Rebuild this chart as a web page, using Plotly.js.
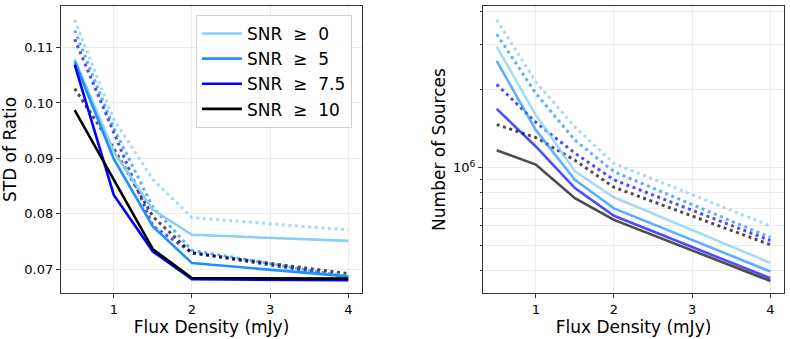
<!DOCTYPE html>
<html>
<head>
<meta charset="utf-8">
<script src="https://cdn.plot.ly/plotly-3.0.1.min.js"></script>
<style>
  body { margin: 0; padding: 0; background: #fff; }
  #chart { width: 790px; height: 339px; }
</style>
</head>
<body>
<div id="chart"></div>
<script>
// flux density bins (mJy)
var flux = [0.5, 1, 1.5, 2, 4];

// left panel: STD of ratio, solid lines
var std_snr0  = [0.1079, 0.0912, 0.0807, 0.0762, 0.0751];
var std_snr5  = [0.1075, 0.0899, 0.0777, 0.0711, 0.0687];
var std_snr75 = [0.1069, 0.0834, 0.0732, 0.0682, 0.0680];
var std_snr10 = [0.0987, 0.0862, 0.0736, 0.0684, 0.0683];
// left panel: dotted lines
var std2_snr0  = [0.1150, 0.0970, 0.0862, 0.0793, 0.0771];
var std2_snr5  = [0.1131, 0.0955, 0.0812, 0.0734, 0.0686];
var std2_snr75 = [0.1115, 0.0945, 0.0778, 0.0730, 0.0685];
var std2_snr10 = [0.1026, 0.0918, 0.0795, 0.0729, 0.0692];

// right panel: number of sources, solid lines
var n_snr0  = [2.94e6, 1.60e6, 9.7e5, 7.7e5, 4.3e5];
var n_snr5  = [2.59e6, 1.40e6, 9.0e5, 6.98e5, 3.98e5];
var n_snr75 = [1.69e6, 1.21e6, 8.36e5, 6.53e5, 3.75e5];
var n_snr10 = [1.17e6, 1.03e6, 7.64e5, 6.3e5, 3.66e5];
// right panel: dotted lines
var n2_snr0  = [3.73e6, 2.15e6, 1.44e6, 1.04e6, 5.97e5];
var n2_snr5  = [3.28e6, 1.94e6, 1.28e6, 9.67e5, 5.39e5];
var n2_snr75 = [2.10e6, 1.50e6, 1.14e6, 8.99e5, 5.24e5];
var n2_snr10 = [1.47e6, 1.31e6, 1.07e6, 8.42e5, 5.05e5];

var names = ['SNR\u00a0 \u2265\u00a0 0', 'SNR\u00a0 \u2265\u00a0 5', 'SNR\u00a0 \u2265\u00a0 7.5', 'SNR\u00a0 \u2265\u00a0 10'];
var solidCols = ['#87CEFA', '#1E90FF', '#0000FF', '#000000'];
var fadedCols = ['rgba(135,206,250,0.75)', 'rgba(30,144,255,0.72)', 'rgba(0,0,255,0.7)', 'rgba(0,0,0,0.7)'];
var dotted = '3px,3.6px';

var leftSolid = [std_snr0, std_snr5, std_snr75, std_snr10];
var leftDot = [std2_snr0, std2_snr5, std2_snr75, std2_snr10];
var rightSolid = [n_snr0, n_snr5, n_snr75, n_snr10];
var rightDot = [n2_snr0, n2_snr5, n2_snr75, n2_snr10];

var data = [];
// dotted first so solids sit on top
for (var i = 0; i < 4; i++) {
  data.push({x: flux, y: leftDot[i], type: 'scatter', mode: 'lines', showlegend: false,
    line: {color: fadedCols[i], width: 3, dash: dotted}, xaxis: 'x', yaxis: 'y'});
  data.push({x: flux, y: rightDot[i], type: 'scatter', mode: 'lines', showlegend: false,
    line: {color: fadedCols[i], width: 3, dash: dotted}, xaxis: 'x2', yaxis: 'y2'});
}
for (var i = 0; i < 4; i++) {
  data.push({x: flux, y: leftSolid[i], type: 'scatter', mode: 'lines', name: names[i],
    line: {color: solidCols[i], width: 2.6}, xaxis: 'x', yaxis: 'y'});
  data.push({x: flux, y: rightSolid[i], type: 'scatter', mode: 'lines', showlegend: false,
    line: {color: fadedCols[i], width: 2.6}, xaxis: 'x2', yaxis: 'y2'});
}

var axisStyle = {
  showline: true, mirror: true, linecolor: '#333', linewidth: 1.3,
  ticks: 'outside', ticklen: 4, tickcolor: '#333',
  showgrid: true, gridcolor: '#ececec', gridwidth: 1, zeroline: false,
  tickfont: {family: 'DejaVu Sans', size: 13, color: '#000'}
};

function ax(extra) {
  var o = {};
  for (var k in axisStyle) o[k] = axisStyle[k];
  for (var k in extra) o[k] = extra[k];
  return o;
}

var titleFont = {family: 'DejaVu Sans', size: 17, color: '#000'};

var layout = {
  width: 790, height: 339,
  margin: {l: 61, r: 6, t: 6, b: 46},
  paper_bgcolor: '#fff', plot_bgcolor: '#fff',
  font: {family: 'DejaVu Sans', color: '#000'},
  xaxis: ax({domain: [0, 0.4163], range: [0.325, 4.175], tickvals: [1, 2, 3, 4],
    title: {text: 'Flux Density (mJy)', font: titleFont, standoff: 4}}),
  yaxis: ax({range: [0.0657, 0.1175], tickvals: [0.07, 0.08, 0.09, 0.10, 0.11], tickformat: '.2f',
    title: {text: 'STD of Ratio', font: titleFont, standoff: 5}}),
  xaxis2: ax({domain: [0.5837, 1], range: [0.325, 4.175], tickvals: [1, 2, 3, 4], anchor: 'y2',
    title: {text: 'Flux Density (mJy)', font: titleFont, standoff: 4}}),
  yaxis2: ax({type: 'log', range: [5.517, 6.625], anchor: 'x2',
    tickvals: [1e6], ticktext: ['10<sup>6</sup>'],
    minor: {tickvals: [3e5, 4e5, 5e5, 6e5, 7e5, 8e5, 9e5, 2e6, 3e6, 4e6], ticks: 'outside', ticklen: 2,
      tickcolor: '#333', showgrid: true, gridcolor: '#ececec', gridwidth: 1},
    title: {text: 'Number of Sources', font: titleFont, standoff: 2}}),
  legend: {x: 0.1867, y: 0.9686, xanchor: 'left', yanchor: 'top',
    bgcolor: 'rgba(255,255,255,0.85)', bordercolor: '#d0d0d0', borderwidth: 1,
    font: {family: 'DejaVu Sans', size: 17, color: '#000'}, itemwidth: 40, tracegroupgap: 0}
};

Plotly.newPlot('chart', data, layout, {displayModeBar: false});
</script>
</body>
</html>
